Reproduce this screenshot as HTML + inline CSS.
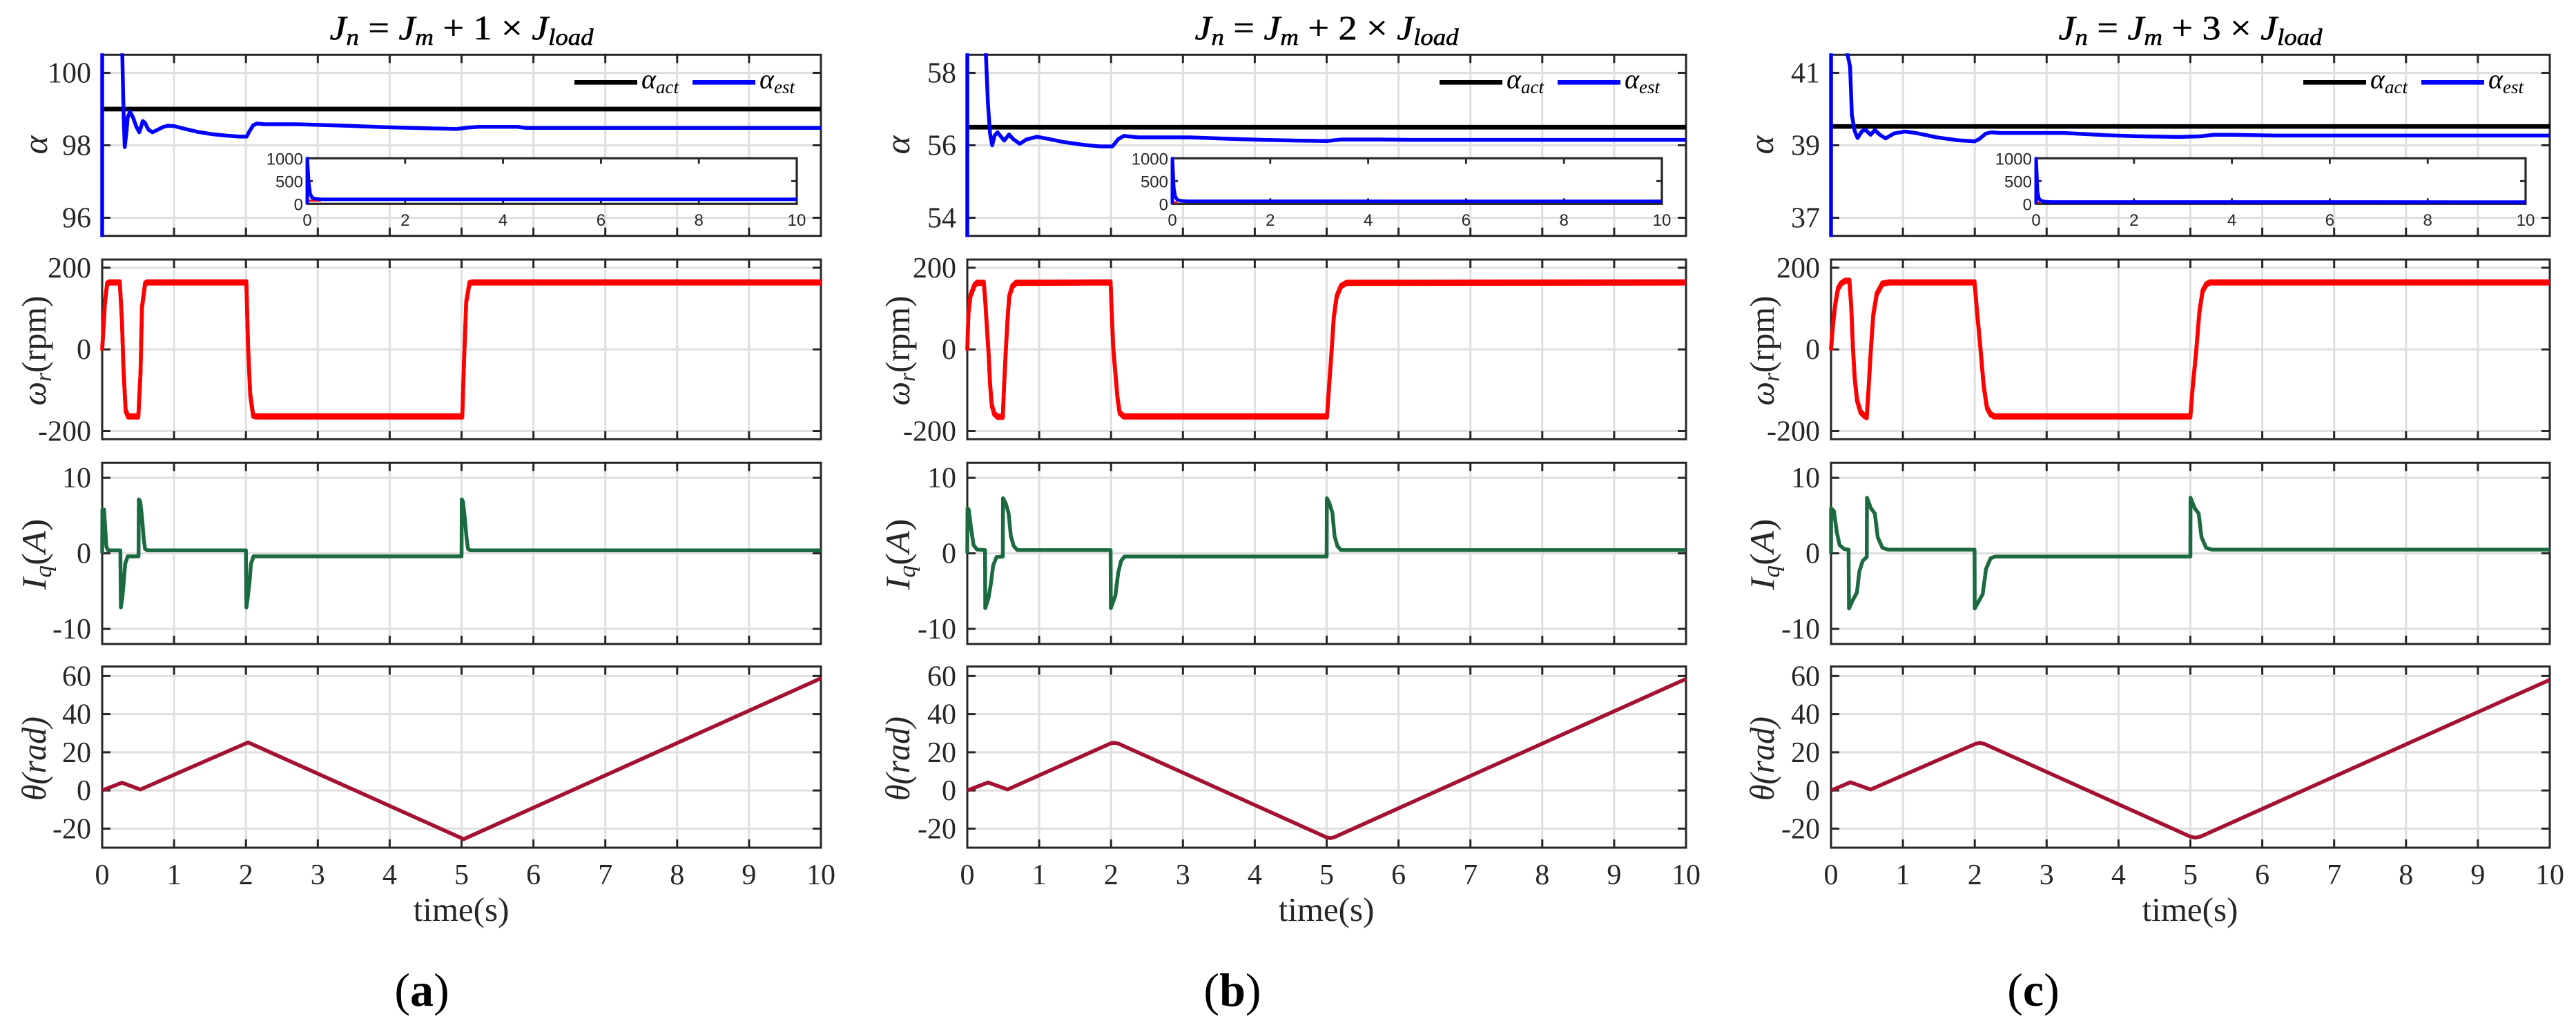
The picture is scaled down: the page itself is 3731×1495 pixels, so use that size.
<!DOCTYPE html>
<html lang="en">
<head>
<meta charset="utf-8">
<title>Inertia ratio estimation results</title>
<style>
html,body{margin:0;padding:0;background:#fff;width:3731px;height:1495px;overflow:hidden;}
svg{display:block;overflow:hidden;}
text{font-family:"Liberation Serif","DejaVu Serif",serif;fill:#262626;}
</style>
</head>
<body>
<svg id="chart" xmlns="http://www.w3.org/2000/svg" width="3731" height="1495" viewBox="0 0 3731 1495">
<rect x="0" y="0" width="3731" height="1495" fill="#ffffff"/>
</svg>
<script>
// ---- shared ticks ----
const xTickValues = [0,1,2,3,4,5,6,7,8,9,10];
const insetXTickValues = [0,2,4,6,8,10];
const insetYTickValues = [0,500,1000];
const speedTickValues = [200,0,-200];
const currentTickValues = [10,0,-10];
const angleTickValues = [60,40,20,0,-20];
const speedLimits = [-220,220];
const currentLimits = [-12,12];
const angleLimits = [-30,65];
const subfigureNames = ['a','b','c'];
const loadMultipliers = ['1','2','3'];

// ---- figure (a) ----
const alphaTicksA = [100,98,96];
const alphaLimitsA = [95.5,100.5];
const alphaActualA = [99,99];
const alphaActualTimeA = [0,10];
const alphaTimeA = [0,0.0005,0.03,0.279,0.291,0.301,0.314,0.339,0.355,0.387,0.429,0.474,0.516,0.538,0.564,0.596,0.644,0.698,0.772,0.852,0.916,1.0,1.14,1.33,1.52,1.72,1.91,2.01,2.05,2.10,2.15,2.26,2.7,3.0,3.55,3.94,4.55,4.93,5.09,5.24,5.78,5.9,10];
const alphaEstA = [0,1000,800,100.6,99.47,98.65,97.95,98.39,98.77,98.93,98.77,98.52,98.36,98.49,98.67,98.62,98.43,98.36,98.43,98.51,98.54,98.53,98.46,98.37,98.31,98.27,98.24,98.24,98.39,98.55,98.6,98.58,98.58,98.565,98.53,98.5,98.47,98.45,98.49,98.51,98.51,98.48,98.48];
const insetTimeA = [0,0.001,0.03,0.06,0.1,0.16,0.3,10];
const insetEstA = [0,1000,480,220,135,112,99,98.5];
const insetRedTimeA = [0.02,0.28];
const insetRedA = [70,70];
const speedTimeA = [0,0.039,0.069,0.1,0.245,0.275,0.296,0.326,0.36,0.503,0.533,0.554,0.597,0.623,2.006,2.03,2.06,2.10,2.135,5.01,5.035,5.065,5.11,5.15,10];
const speedA = [0,116,161,164,164,70,-46,-149,-164,-164,-59,103,161,164,164,6,-111,-162,-164,-164,-27,116,162,164,164];
const currentTimeA = [0,0.003,0.026,0.045,0.058,0.083,0.253,0.256,0.26,0.28,0.3,0.32,0.355,0.506,0.51,0.53,0.555,0.577,0.596,0.628,2.0,2.003,2.006,2.025,2.05,2.07,2.105,5.0,5.003,5.02,5.045,5.07,5.09,5.12,10];
const currentA = [0,5.8,5.8,2.9,0.9,0.4,0.4,-3.2,-7.15,-5.9,-3.8,-1.4,-0.4,-0.4,7.15,6.85,4.7,2,0.6,0.4,0.4,-3,-7.15,-5.9,-3.8,-1.4,-0.4,-0.4,7.15,6.85,4.7,2,0.6,0.4,0.4];
const angleTimeA = [0,0.275,0.53,2.03,5.03,10];
const angleA = [0,4.1,0.5,25.2,-25.5,58.8];

// ---- figure (b) ----
const alphaTicksB = [58,56,54];
const alphaLimitsB = [53.5,58.5];
const alphaActualB = [56.5,56.5];
const alphaActualTimeB = [0,10];
const alphaTimeB = [0,0.0005,0.03,0.257,0.287,0.316,0.346,0.38,0.42,0.456,0.515,0.58,0.64,0.73,0.82,0.97,1.12,1.34,1.63,1.85,2.02,2.1,2.18,2.37,2.66,3.1,3.62,4.13,4.57,5.01,5.2,5.75,6.2,10];
const alphaEstB = [0,1000,800,58.6,57.16,56.33,56,56.27,56.36,56.27,56.13,56.3,56.17,56.04,56.16,56.235,56.18,56.09,56.01,55.97,55.97,56.17,56.26,56.22,56.22,56.22,56.18,56.15,56.13,56.12,56.16,56.16,56.15,56.15];
const insetTimeB = [0,0.001,0.03,0.06,0.1,0.16,0.3,10];
const insetEstB = [0,1000,340,160,90,70,57,56.2];
const insetRedTimeB = [0.03,0.1];
const insetRedB = [30,30];
const speedTimeB = [0,0.016,0.045,0.1,0.135,0.23,0.25,0.27,0.295,0.317,0.34,0.375,0.423,0.494,0.513,0.535,0.56,0.583,0.625,0.68,1.994,2.01,2.03,2.057,2.09,2.12,2.176,5.005,5.03,5.07,5.1,5.14,5.2,5.28,10];
const speedB = [0,89,132,157,163,163,118,61,-6,-85,-136,-158,-165,-165,-85,-6,73,129,154,163,164,89,5,-51,-119,-155,-164,-164,-100,0,80,130,155,163,164];
const currentTimeB = [0,0.003,0.02,0.05,0.087,0.135,0.247,0.25,0.295,0.327,0.36,0.407,0.494,0.497,0.535,0.574,0.606,0.647,0.696,1.994,1.997,2.06,2.1,2.14,2.186,5.0,5.003,5.04,5.08,5.11,5.15,5.2,10];
const currentB = [0,5.95,5.8,3.5,1.1,0.5,0.43,-7.26,-5.9,-4.1,-1.6,-0.49,-0.43,7.3,6.6,5.35,2.3,0.94,0.43,0.43,-7.26,-5.6,-2.55,-1,-0.43,-0.43,7.3,6.6,5.35,2.3,0.94,0.43,0.43];
const angleTimeB = [0,0.29,0.56,2.0,2.05,2.1,5.0,5.05,5.1,10];
const angleB = [0,4.2,0.5,24.8,25,24.6,-24.6,-25,-24.6,58.5];

// ---- figure (c) ----
const alphaTicksC = [41,39,37];
const alphaLimitsC = [36.5,41.5];
const alphaActualC = [39.52,39.52];
const alphaActualTimeC = [0,10];
const alphaTimeC = [0,0.0005,0.03,0.22,0.265,0.29,0.33,0.37,0.43,0.48,0.55,0.61,0.68,0.76,0.88,1.03,1.18,1.47,1.76,2.0,2.06,2.15,2.23,2.35,3.24,3.82,4.26,4.85,5.15,5.33,5.6,6.18,10];
const alphaEstC = [0,1000,800,41.6,41.17,39.84,39.39,39.2,39.39,39.43,39.29,39.42,39.29,39.19,39.33,39.38,39.34,39.22,39.14,39.11,39.17,39.32,39.36,39.34,39.34,39.28,39.25,39.23,39.25,39.29,39.29,39.27,39.27];
const insetTimeC = [0,0.001,0.03,0.06,0.1,0.16,0.3,10];
const insetEstC = [0,1000,260,110,70,52,41,39.3];
const insetRedTimeC = [0.03,0.08];
const insetRedC = [30,30];
const speedTimeC = [0,0.026,0.058,0.096,0.138,0.2,0.256,0.282,0.304,0.33,0.362,0.41,0.458,0.497,0.522,0.554,0.587,0.635,0.715,0.81,1.997,2.03,2.077,2.125,2.17,2.22,2.27,5.0,5.03,5.08,5.125,5.17,5.22,5.27,10];
const speedC = [0,58,109,148,161,168,168,103,6,-72,-124,-153,-162,-166,-98,-1,83,135,161,164,164,96,6,-91,-143,-159,-164,-164,-96,-6,91,143,159,164,164];
const currentTimeC = [0,0.001,0.04,0.08,0.12,0.186,0.244,0.25,0.3,0.36,0.394,0.44,0.497,0.5,0.555,0.61,0.65,0.715,0.795,1.997,2.0,2.11,2.157,2.22,2.285,5.0,5.002,5.06,5.115,5.155,5.22,5.3,10];
const currentC = [0,5.97,5.6,2.83,1.08,0.56,0.49,-7.3,-6.25,-5.2,-2.4,-1,-0.49,7.36,5.97,5.27,2.13,0.73,0.49,0.49,-7.3,-5.4,-2.06,-0.66,-0.42,-0.42,7.36,5.97,5.27,2.13,0.73,0.49,0.49];
const angleTimeC = [0,0.27,0.55,2.0,2.07,2.14,5.0,5.07,5.14,10];
const angleC = [0,4.3,0.5,24.3,25,24.3,-24.2,-24.8,-24.2,58];

// ---- layout ----
const INK = '#262626', GRID = '#dfdfdf';
const svg = document.getElementById('chart');
const NS = 'http://www.w3.org/2000/svg';

function el(tag, attrs, parent) {
  const node = document.createElementNS(NS, tag);
  for (const k in attrs) node.setAttribute(k, attrs[k]);
  (parent || svg).appendChild(node);
  return node;
}
function linearScale(d0, d1, p0, p1) {
  return v => p0 + (v - d0) * (p1 - p0) / (d1 - d0);
}
function clampedScale(scale, lo, hi) {
  return v => scale(Math.min(hi, Math.max(lo, v)));
}
function pointString(times, values, xs, ys, dy) {
  return times.map((t, i) => xs(t).toFixed(2) + ',' + (ys(values[i]) + (dy || 0)).toFixed(2)).join(' ');
}

function drawAxes(group, box, xs, ys, yTicks, showXLabels) {
  const grid = el('g', {stroke: GRID, 'stroke-width': 3, fill: 'none'}, group);
  
  
  xTickValues.slice(1, -1).forEach(t => {
    el('line', {x1: xs(t), x2: xs(t), y1: box.top, y2: box.bottom}, grid);
  });
  yTicks.forEach(v => {
    el('line', {x1: box.left, x2: box.right, y1: ys(v), y2: ys(v)}, grid);
  });
  const frame = el('rect', {x: box.left, y: box.top, width: box.right - box.left, height: box.bottom - box.top, fill: 'none', stroke: INK, 'stroke-width': 3}, group);
  
  
  const ticks = el('g', {stroke: INK, 'stroke-width': 3, fill: 'none'}, group);
  
  
  xTickValues.slice(1, -1).forEach(t => {
    el('line', {x1: xs(t), x2: xs(t), y1: box.top, y2: box.top + 12}, ticks);
    el('line', {x1: xs(t), x2: xs(t), y1: box.bottom, y2: box.bottom - 12}, ticks);
  });
  yTicks.forEach(v => {
    el('line', {x1: box.left, x2: box.left + 12, y1: ys(v), y2: ys(v)}, ticks);
    el('line', {x1: box.right, x2: box.right - 12, y1: ys(v), y2: ys(v)}, ticks);
  });
  yTicks.forEach(v => {
    const label = el('text', {x: box.left - 16, y: ys(v) + 14, 'text-anchor': 'end', 'font-size': 42}, group);
    
    
    label.textContent = String(v);
  });
  if (showXLabels) {
    xTickValues.forEach(t => {
      const label = el('text', {x: xs(t), y: box.bottom + 53, 'text-anchor': 'middle', 'font-size': 42}, group);
      
      
      label.textContent = String(t);
    });
  }
}

function addClip(id, box) {
  const clip = el('clipPath', {id: id});
  el('rect', {x: box.left - 4, y: box.top - 2, width: box.right - box.left + 5.5, height: box.bottom - box.top + 3.5}, clip);
}

function drawLine(parent, times, values, xs, ys, color, width, clipId, dy) {
  return el('polyline', {points: pointString(times, values, xs, ys, dy), fill: 'none', stroke: color, 'stroke-width': width, 'stroke-linejoin': 'round', 'clip-path': 'url(#' + clipId + ')'}, parent);
}

function yAxisTitle(parent, x, y, length, markup) {
  const title = el('text', {transform: 'translate(' + x + ',' + y + ') rotate(-90)', 'text-anchor': 'middle', 'font-size': 50, textLength: length, lengthAdjust: 'spacingAndGlyphs'}, parent);
  
  
  title.innerHTML = markup;
}

function drawFigure(cfg, idx) {
  const L = cfg.left, R = cfg.left + 1041;
  const xs = linearScale(0, 10, L, R);
  const fig = el('g', {});
  
  

  // title
  const title = el('text', {x: L + 520.5, y: 57, 'text-anchor': 'middle', 'font-size': 50, textLength: 382, lengthAdjust: 'spacingAndGlyphs', style: 'fill:#000;stroke:#000;stroke-width:0.6'}, fig);
  
  
  title.innerHTML = '<tspan font-style="italic">J</tspan><tspan font-style="italic" font-size="34" dy="8">n</tspan><tspan dy="-8"> = </tspan><tspan font-style="italic">J</tspan><tspan font-style="italic" font-size="34" dy="8">m</tspan><tspan dy="-8"> + ' + loadMultipliers[idx] + ' × </tspan><tspan font-style="italic">J</tspan><tspan font-style="italic" font-size="34" dy="8">load</tspan>';

  // ---- alpha panel ----
  const boxA = {left: L, right: R, top: 79.3, bottom: 341.7};
  const yA = linearScale(cfg.alphaLimits[0], cfg.alphaLimits[1], boxA.bottom, boxA.top);
  const yAClamped = clampedScale(yA, cfg.alphaLimits[0] - 0.5, cfg.alphaLimits[1] + 0.5);
  const pA = el('g', {}, fig);
  
  
  drawAxes(pA, boxA, xs, yA, cfg.alphaTicks, false);
  addClip('clip-a-' + idx, boxA);
  const act = drawLine(pA, cfg.alphaActualTime, cfg.alphaActual, xs, yAClamped, '#000000', 6.7, 'clip-a-' + idx);
  
  
  const est = drawLine(pA, cfg.alphaTime, cfg.alphaEst, xs, yAClamped, '#0000ff', 5.5, 'clip-a-' + idx);
  
  
  yAxisTitle(pA, cfg.alphaTitleX, 210, 27, '<tspan font-style="italic">α</tspan>');

  // legend
  const leg = el('g', {}, pA);
  
  
  const legActual = el('line', {x1: L + 684, x2: L + 775, y1: 119.3, y2: 119.3, stroke: '#000', 'stroke-width': 6.7}, leg);
  
  
  const legActualText = el('text', {x: L + 781, y: 128, 'font-size': 40, 'font-style': 'italic', style: 'fill:#000'}, leg);
  
  
  legActualText.innerHTML = 'α<tspan font-size="27" dy="7">act</tspan>';
  const legEst = el('line', {x1: L + 855, x2: L + 946, y1: 119.3, y2: 119.3, stroke: '#0000ff', 'stroke-width': 6.7}, leg);
  
  
  const legEstText = el('text', {x: L + 952, y: 128, 'font-size': 40, 'font-style': 'italic', style: 'fill:#000'}, leg);
  
  
  legEstText.innerHTML = 'α<tspan font-size="27" dy="7">est</tspan>';

  // inset
  const boxI = {left: L + 297, right: L + 1006, top: 229.3, bottom: 295.3};
  const xI = linearScale(0, 10, boxI.left, boxI.right);
  const yI = linearScale(0, 1000, boxI.bottom, boxI.top);
  const inset = el('g', {}, pA);
  
  
  const insetBg = el('rect', {x: boxI.left, y: boxI.top, width: 709, height: 66, fill: '#fff', stroke: INK, 'stroke-width': 3.2}, inset);
  
  
  const iTicks = el('g', {stroke: INK, 'stroke-width': 2.8}, inset);
  
  
  insetXTickValues.slice(1, -1).forEach(t => {
    el('line', {x1: xI(t), x2: xI(t), y1: boxI.top, y2: boxI.top + 8}, iTicks);
    el('line', {x1: xI(t), x2: xI(t), y1: boxI.bottom, y2: boxI.bottom - 8}, iTicks);
  });
  el('line', {x1: boxI.left, x2: boxI.left + 8, y1: yI(500), y2: yI(500)}, iTicks);
  el('line', {x1: boxI.right, x2: boxI.right - 8, y1: yI(500), y2: yI(500)}, iTicks);
  insetXTickValues.forEach(t => {
    const lab = el('text', {x: xI(t), y: 327, 'text-anchor': 'middle', 'font-size': 24, style: 'font-family:"Liberation Sans",sans-serif;fill:#262626'}, inset);
    
    
    lab.textContent = String(t);
  });
  insetYTickValues.forEach(v => {
    const lab = el('text', {x: boxI.left - 6, y: yI(v) + 9, 'text-anchor': 'end', 'font-size': 24, style: 'font-family:"Liberation Sans",sans-serif;fill:#262626'}, inset);
    
    
    lab.textContent = String(v);
  });
  addClip('clip-i-' + idx, boxI);
  const iRed = drawLine(inset, cfg.insetRedTime, cfg.insetRed, xI, yI, '#ff0000', 3, 'clip-i-' + idx);
  
  
  const iEst = drawLine(inset, cfg.insetTime, cfg.insetEst, xI, yI, '#0000ff', 5, 'clip-i-' + idx);
  
  

  // ---- speed panel ----
  const boxS = {left: L, right: R, top: 376, bottom: 636.3};
  const yS = linearScale(speedLimits[0], speedLimits[1], boxS.bottom, boxS.top);
  const pS = el('g', {}, fig);
  
  
  drawAxes(pS, boxS, xs, yS, speedTickValues, false);
  addClip('clip-s-' + idx, boxS);
  [-1.8, 1.8, 0].forEach(offset => {
    const speed = drawLine(pS, cfg.speedTime, cfg.speed, xs, yS, '#ff0000', 5.5, 'clip-s-' + idx, offset);
    
    
  });
  yAxisTitle(pS, L - cfg.titleGap, 508, 159, '<tspan font-style="italic">ω</tspan><tspan font-style="italic" font-size="34" dy="8">r</tspan><tspan dy="-8">(rpm)</tspan>');

  // ---- current panel ----
  const boxC = {left: L, right: R, top: 670.3, bottom: 932.9};
  const yC = linearScale(currentLimits[0], currentLimits[1], boxC.bottom, boxC.top);
  const pC = el('g', {}, fig);
  
  
  drawAxes(pC, boxC, xs, yC, currentTickValues, false);
  addClip('clip-c-' + idx, boxC);
  const cur = drawLine(pC, cfg.currentTime, cfg.current, xs, yC, '#1b6a40', 5.5, 'clip-c-' + idx);
  
  
  yAxisTitle(pC, L - cfg.titleGap, 803, 103, '<tspan font-style="italic">I</tspan><tspan font-style="italic" font-size="34" dy="8">q</tspan><tspan dy="-8">(</tspan><tspan font-style="italic">A</tspan><tspan>)</tspan>');

  // ---- angle panel ----
  const boxT = {left: L, right: R, top: 965.5, bottom: 1228};
  const yT = linearScale(angleLimits[0], angleLimits[1], boxT.bottom, boxT.top);
  const pT = el('g', {}, fig);
  
  
  drawAxes(pT, boxT, xs, yT, angleTickValues, true);
  addClip('clip-t-' + idx, boxT);
  const ang = drawLine(pT, cfg.angleTime, cfg.angle, xs, yT, '#a31232', 5.5, 'clip-t-' + idx);
  
  
  yAxisTitle(pT, L - cfg.titleGap, 1099, 122, '<tspan font-style="italic">θ(rad)</tspan>');

  const xTitle = el('text', {x: L + 520, y: 1334, 'text-anchor': 'middle', 'font-size': 49}, fig);
  
  
  xTitle.textContent = 'time(s)';

  const sub = el('text', {x: cfg.captionX, y: 1457, 'text-anchor': 'middle', 'font-size': 68, style: 'fill:#000'}, fig);
  
  
  sub.innerHTML = '(<tspan font-weight="bold">' + subfigureNames[idx] + '</tspan>)';
}

drawFigure({left: 148, titleGap: 82, alphaTitleX: 68, captionX: 611,
  alphaTicks: alphaTicksA, alphaLimits: alphaLimitsA, alphaActual: alphaActualA, alphaActualTime: alphaActualTimeA,
  alphaTime: alphaTimeA, alphaEst: alphaEstA, insetTime: insetTimeA, insetEst: insetEstA, insetRedTime: insetRedTimeA, insetRed: insetRedA,
  speedTime: speedTimeA, speed: speedA, currentTime: currentTimeA, current: currentA, angleTime: angleTimeA, angle: angleA}, 0);
drawFigure({left: 1401, titleGap: 84, alphaTitleX: 1317, captionX: 1785,
  alphaTicks: alphaTicksB, alphaLimits: alphaLimitsB, alphaActual: alphaActualB, alphaActualTime: alphaActualTimeB,
  alphaTime: alphaTimeB, alphaEst: alphaEstB, insetTime: insetTimeB, insetEst: insetEstB, insetRedTime: insetRedTimeB, insetRed: insetRedB,
  speedTime: speedTimeB, speed: speedB, currentTime: currentTimeB, current: currentB, angleTime: angleTimeB, angle: angleB}, 1);
drawFigure({left: 2652, titleGap: 83, alphaTitleX: 2568, captionX: 2945,
  alphaTicks: alphaTicksC, alphaLimits: alphaLimitsC, alphaActual: alphaActualC, alphaActualTime: alphaActualTimeC,
  alphaTime: alphaTimeC, alphaEst: alphaEstC, insetTime: insetTimeC, insetEst: insetEstC, insetRedTime: insetRedTimeC, insetRed: insetRedC,
  speedTime: speedTimeC, speed: speedC, currentTime: currentTimeC, current: currentC, angleTime: angleTimeC, angle: angleC}, 2);
</script>
</body>
</html>
